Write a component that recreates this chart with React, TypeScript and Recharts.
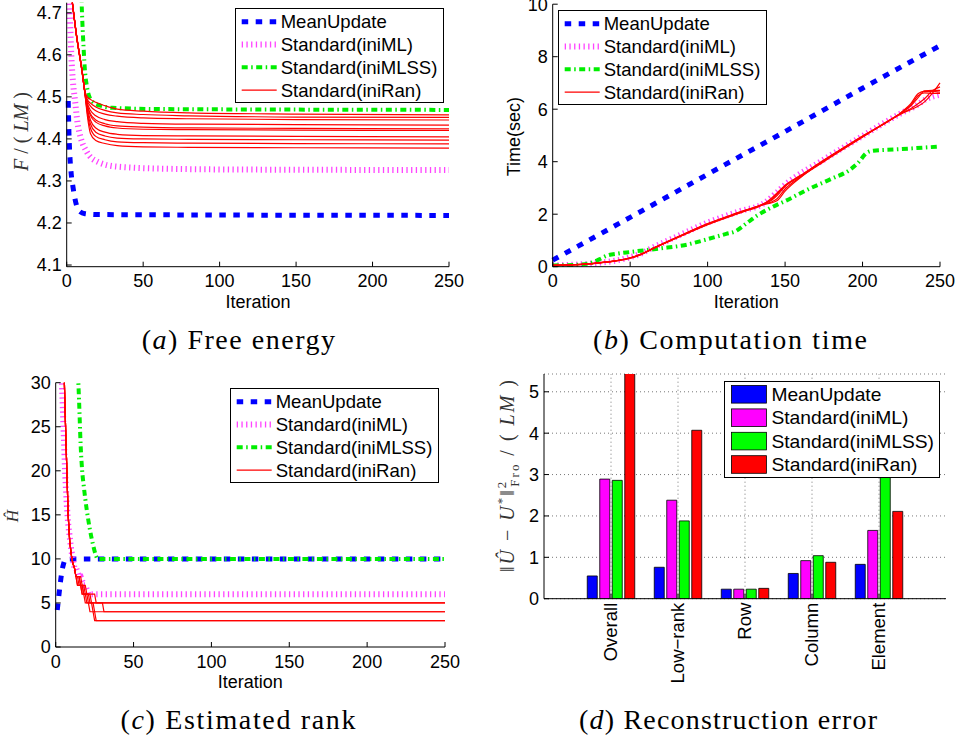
import React from 'react';
import { Bar, BarChart, CartesianGrid, Line, LineChart, ReferenceLine, XAxis, YAxis } from 'recharts';

const SANS = '"Liberation Sans", Arial, Helvetica, sans-serif';
const SERIF = '"Liberation Serif", "Times New Roman", serif';

const iterTicks = [0, 50, 100, 150, 200, 250];
const seriesNames = ['MeanUpdate', 'Standard(iniML)', 'Standard(iniMLSS)', 'Standard(iniRan)'];

// (a) free energy F/(LM)
const feTicks = [4.1, 4.2, 4.3, 4.4, 4.5, 4.6, 4.7];
const feMeanIt = [1, 1.5, 2, 3, 4, 5.5, 8, 12, 20, 250];
const feMean = [4.49, 4.41, 4.365, 4.315, 4.288, 4.256, 4.229, 4.222, 4.22, 4.218];
const feMLIt = [1, 2, 3, 4, 5.5, 7, 9, 13, 20, 33, 65, 120, 250];
const feML = [4.8, 4.7, 4.6, 4.54, 4.49, 4.44, 4.405, 4.37, 4.346, 4.334, 4.329, 4.327, 4.326];
const feMLSSIt = [9.5, 10, 11, 12, 13, 14, 17, 22, 30, 60, 250];
const feMLSS = [4.75, 4.7, 4.62, 4.56, 4.53, 4.51, 4.488, 4.479, 4.474, 4.471, 4.469];
const feRanIt = [3.5, 6.5, 10, 12, 13.5, 15.5, 19, 25, 33, 50, 80, 150, 250];
const feRan = [
  [4.73, 4.645, 4.565, 4.512, 4.5, 4.494, 4.487, 4.479, 4.471, 4.466, 4.462, 4.459, 4.457],
  [4.73, 4.645, 4.565, 4.51, 4.494, 4.485, 4.476, 4.468, 4.462, 4.458, 4.455, 4.452, 4.451],
  [4.73, 4.645, 4.564, 4.51, 4.49, 4.478, 4.467, 4.459, 4.454, 4.45, 4.448, 4.446, 4.445],
  [4.73, 4.644, 4.563, 4.509, 4.485, 4.468, 4.455, 4.446, 4.441, 4.437, 4.435, 4.434, 4.433],
  [4.73, 4.644, 4.563, 4.508, 4.48, 4.46, 4.445, 4.436, 4.431, 4.428, 4.426, 4.425, 4.424],
  [4.73, 4.644, 4.562, 4.508, 4.478, 4.456, 4.44, 4.431, 4.426, 4.423, 4.422, 4.421, 4.42],
  [4.73, 4.643, 4.562, 4.507, 4.472, 4.445, 4.426, 4.416, 4.411, 4.408, 4.407, 4.406, 4.405],
  [4.73, 4.643, 4.561, 4.507, 4.467, 4.436, 4.416, 4.407, 4.402, 4.4, 4.399, 4.398, 4.397],
  [4.73, 4.642, 4.561, 4.506, 4.462, 4.426, 4.406, 4.398, 4.393, 4.391, 4.39, 4.389, 4.388],
  [4.73, 4.642, 4.56, 4.505, 4.455, 4.413, 4.396, 4.389, 4.384, 4.381, 4.38, 4.379, 4.378],
];

// (b) computation time (sec)
const tmTicks = [0, 2, 4, 6, 8, 10];
const tmMeanIt = [0, 50, 100, 150, 200, 250];
const tmMean = [0.25, 1.88, 3.52, 5.15, 6.8, 8.42];
const tmMLIt = [0, 25, 50, 57, 65, 80, 100, 120, 137, 145, 150, 175, 200, 225, 235, 240, 250];
const tmML = [0.05, 0.12, 0.36, 0.5, 0.74, 1.15, 1.68, 2.1, 2.44, 2.85, 3.12, 4.08, 4.98, 5.85, 6.15, 6.35, 6.55];
const tmMLSSIt = [0, 15, 25, 30, 35, 42, 50, 60, 70, 85, 100, 112, 118, 124, 132, 142, 150, 165, 180, 192, 197, 203, 207, 215, 230, 250];
const tmMLSS = [0.05, 0.07, 0.15, 0.28, 0.42, 0.5, 0.56, 0.63, 0.7, 0.82, 1.05, 1.25, 1.35, 1.6, 1.95, 2.28, 2.5, 2.95, 3.35, 3.7, 3.95, 4.35, 4.42, 4.45, 4.5, 4.58];
const tmRanIt = [0, 10, 25, 40, 50, 57, 65, 80, 100, 120, 136, 141, 145, 150, 160, 175, 200, 225, 231, 236, 240, 245, 250];
const tmRan = [
  [0.05, 0.07, 0.12, 0.22, 0.33, 0.47, 0.7, 1.1, 1.62, 2.05, 2.38, 2.6, 2.82, 3.1, 3.48, 4.06, 4.98, 5.88, 6.2, 6.6, 6.68, 6.68, 6.65],
  [0.05, 0.07, 0.12, 0.22, 0.34, 0.48, 0.71, 1.11, 1.63, 2.06, 2.39, 2.52, 2.72, 3.05, 3.45, 4.04, 4.96, 5.86, 6.12, 6.45, 6.7, 6.72, 6.72],
  [0.05, 0.07, 0.12, 0.21, 0.33, 0.47, 0.7, 1.1, 1.61, 2.04, 2.37, 2.46, 2.6, 2.96, 3.42, 4.02, 4.95, 5.84, 6.02, 6.22, 6.4, 6.7, 6.85],
  [0.05, 0.06, 0.11, 0.21, 0.32, 0.46, 0.69, 1.09, 1.6, 2.03, 2.36, 2.43, 2.52, 2.88, 3.4, 4.0, 4.93, 5.82, 5.98, 6.12, 6.28, 6.6, 7.0],
  [0.05, 0.07, 0.12, 0.22, 0.34, 0.48, 0.71, 1.12, 1.64, 2.07, 2.4, 2.55, 2.78, 3.08, 3.46, 4.05, 4.97, 5.87, 6.15, 6.52, 6.62, 6.6, 6.6],
];

// (c) estimated rank
const rkTicks = [0, 5, 10, 15, 20, 25, 30];
const rkMeanIt = [1, 2, 3, 4, 5, 6, 7, 250];
const rkMean = [4.2, 5.8, 7.3, 8.6, 9.4, 9.9, 10, 10];
const rkMLIt = [3.8, 5, 6, 7, 8, 9, 10, 11, 12, 13, 15, 16, 18, 19, 21, 250];
const rkML = [31, 25, 20, 16.5, 14, 12.5, 11, 10, 9, 9, 8, 8, 7, 7, 6, 6];
const rkMLSSIt = [14.3, 15, 16, 17, 18, 19, 20, 22, 24, 26, 27, 250];
const rkMLSS = [31, 28, 23, 20, 18.3, 16.8, 15.5, 13.3, 11.6, 10.3, 10, 10];
const rkRanHeadIt = [5, 6, 7, 8, 9, 10, 11, 12];
const rkRanHead = [34, 27, 21, 15, 12, 10.5, 9.5, 9];
const rkRanTails = [
  { it: [13, 15, 16, 18, 19, 25, 26, 250], h: [8, 8, 7, 7, 6, 6, 5, 5] },
  { it: [13, 14, 15, 17, 18, 21, 22, 250], h: [8, 8, 7, 7, 6, 6, 5, 5] },
  { it: [13, 16, 17, 19, 20, 22, 23, 30, 31, 250], h: [8, 8, 7, 7, 6, 6, 5, 5, 4, 4] },
  { it: [13, 14, 16, 17, 19, 20, 24, 25, 250], h: [8, 7, 7, 6, 6, 5, 5, 4, 4] },
  { it: [13, 15, 16, 17, 20, 21, 22, 24, 25, 250], h: [8, 8, 7, 6, 6, 5, 4, 4, 3, 3] },
  { it: [13, 14, 17, 18, 19, 23, 24, 25, 26, 250], h: [8, 7, 7, 6, 5, 5, 4, 4, 3, 3] },
];

// (d) reconstruction error
const errCats = ['Overall', 'Low\u2212rank', 'Row', 'Column', 'Element'];
const errMean = [0.55, 0.76, 0.23, 0.61, 0.83];
const errML = [2.89, 2.38, 0.23, 0.92, 1.65];
const errMLSS = [2.86, 1.88, 0.23, 1.04, 3.6];
const errRan = [5.5, 4.07, 0.25, 0.88, 2.11];
const errTicks = [0, 1, 2, 3, 4, 5];

const pts = (it: number[], v: number[]) => it.map((x, i) => ({ x, y: v[i] }));

type LineStyle = { stroke: string; strokeWidth: number; strokeDasharray?: string };
const stMean: LineStyle = { stroke: '#0000ff', strokeWidth: 5, strokeDasharray: '6.5 7.5' };
const stML: LineStyle = { stroke: '#ff44ff', strokeWidth: 6, strokeDasharray: '1.3 3.4' };
const stMLSS: LineStyle = { stroke: '#00ee00', strokeWidth: 4, strokeDasharray: '6 3.5 1.5 3.5' };
const stRan: LineStyle = { stroke: '#ff0000', strokeWidth: 1.2 };
const legendStyles = [stMean, stML, stMLSS, stRan];
const barColors = ['#0000ff', '#ff00ff', '#00ff00', '#ff0000'];
// widths of the legend labels as measured on the figure
const lineLegendW = [106, 132.3, 156.7, 140.7];
const barLegendW = [110, 137, 162.6, 146];

type Series = { data: { x: number; y: number }[]; st: LineStyle; curve: 'monotone' | 'linear' };

const tickStyle = { fontSize: 18, fontFamily: SANS, fill: '#000' };
const ax = { stroke: '#000', strokeWidth: 1 };
const dotted = { stroke: '#555', strokeDasharray: '1 3', strokeWidth: 0.8 };

function IterChart({
  box,
  margin,
  yW,
  yDomain,
  yTicks,
  yFmt,
  series,
}: {
  box: [number, number, number, number];
  margin: { top: number; right: number; bottom: number; left: number };
  yW: number;
  yDomain: [number, number];
  yTicks: number[];
  yFmt?: (v: number) => string;
  series: Series[];
}) {
  return (
    <div style={{ position: 'absolute', left: box[0], top: box[1] }}>
      <LineChart width={box[2]} height={box[3]} margin={margin}>
        <XAxis dataKey="x" type="number" domain={[0, 250]} ticks={iterTicks} interval={0} height={33}
          tick={tickStyle} tickSize={-5} tickMargin={13} axisLine={ax} tickLine={ax} />
        <XAxis xAxisId="top" orientation="top" dataKey="x" type="number" domain={[0, 250]} ticks={iterTicks}
          height={0} tick={false} tickSize={-5} axisLine={ax} tickLine={ax} />
        <YAxis type="number" domain={yDomain} ticks={yTicks} allowDataOverflow interval={0} width={yW}
          tick={tickStyle} tickSize={-5} tickMargin={10} tickFormatter={yFmt} axisLine={ax} tickLine={ax} />
        <YAxis yAxisId="right" orientation="right" type="number" domain={yDomain} ticks={yTicks} allowDataOverflow
          width={0} tick={false} tickSize={-5} axisLine={ax} tickLine={ax} />
        {series.map((s, i) => (
          <Line key={i} data={s.data} dataKey="y" type={s.curve} dot={false} activeDot={false}
            isAnimationActive={false} {...s.st} />
        ))}
      </LineChart>
    </div>
  );
}

function LineLegend({ left, top }: { left: number; top: number }) {
  return (
    <svg style={{ position: 'absolute', left, top }} width={209} height={95}>
      <rect x={0.5} y={0.5} width={208} height={94} fill="#fff" stroke="#000" strokeWidth={1} />
      {seriesNames.map((name, i) => {
        const cy = 13.7 + i * 22.8;
        return (
          <g key={name}>
            <line x1={6.7} x2={41.7} y1={cy} y2={cy} {...legendStyles[i]} />
            <text x={45.7} y={cy} dy="0.35em" fontSize={18.5} fontFamily={SANS} fill="#000"
              textLength={lineLegendW[i]} lengthAdjust="spacingAndGlyphs">{name}</text>
          </g>
        );
      })}
    </svg>
  );
}

function BarLegend({ left, top }: { left: number; top: number }) {
  return (
    <svg style={{ position: 'absolute', left, top }} width={216} height={97}>
      <rect x={0.5} y={0.5} width={215} height={96} fill="#fff" stroke="#000" strokeWidth={1} />
      {seriesNames.map((name, i) => {
        const cy = 13.3 + i * 23.4;
        return (
          <g key={name}>
            <rect x={7.4} y={cy - 8.8} width={35} height={17.6} fill={barColors[i]} stroke="#000" strokeWidth={0.8} />
            <text x={47.4} y={cy} dy="0.35em" fontSize={19} fontFamily={SANS} fill="#000"
              textLength={barLegendW[i]} lengthAdjust="spacingAndGlyphs">{name}</text>
          </g>
        );
      })}
    </svg>
  );
}

function CatTick({ x, y, payload }: any) {
  return (
    <text x={x} y={y} transform={`rotate(-90 ${x} ${y})`} textAnchor="end" dy="0.35em"
      fontSize={18.5} fontFamily={SANS} fill="#000">
      {payload.value}
    </text>
  );
}

export default function App() {
  const feSeries: Series[] = [
    { data: pts(feMeanIt, feMean), st: stMean, curve: 'monotone' },
    { data: pts(feMLIt, feML), st: stML, curve: 'monotone' },
    { data: pts(feMLSSIt, feMLSS), st: stMLSS, curve: 'monotone' },
    ...feRan.map((r) => ({ data: pts(feRanIt, r), st: stRan, curve: 'monotone' as const })),
  ];
  const tmSeries: Series[] = [
    { data: pts(tmMeanIt, tmMean), st: stMean, curve: 'monotone' },
    { data: pts(tmMLIt, tmML), st: stML, curve: 'monotone' },
    { data: pts(tmMLSSIt, tmMLSS), st: stMLSS, curve: 'monotone' },
    ...tmRan.map((r) => ({ data: pts(tmRanIt, r), st: stRan, curve: 'monotone' as const })),
  ];
  const rkSeries: Series[] = [
    { data: pts(rkMeanIt, rkMean), st: stMean, curve: 'monotone' },
    { data: pts(rkMLIt, rkML), st: stML, curve: 'linear' },
    { data: pts(rkMLSSIt, rkMLSS), st: stMLSS, curve: 'monotone' },
    ...rkRanTails.map((t) => ({
      data: pts([...rkRanHeadIt, ...t.it], [...rkRanHead, ...t.h]),
      st: stRan,
      curve: 'linear' as const,
    })),
  ];
  const errRows = errCats.map((name, i) => ({
    name,
    mean: errMean[i],
    ml: errML[i],
    mlss: errMLSS[i],
    ran: errRan[i],
  }));

  return (
    <div style={{ position: 'absolute', left: 0, top: 0, width: 956, height: 740, background: '#fff', overflow: 'hidden' }}>
      <IterChart box={[0, 0, 470, 320]} margin={{ top: 2.7, right: 21, bottom: 20.3, left: 0 }} yW={66.7}
        yDomain={[4.096, 4.724]} yTicks={feTicks} yFmt={(v) => v.toFixed(1)} series={feSeries} />
      <LineLegend left={235} top={8} />

      <IterChart box={[480, 0, 476, 320]} margin={{ top: 4.2, right: 16, bottom: 20.3, left: 0 }} yW={72.7}
        yDomain={[0, 10]} yTicks={tmTicks} series={tmSeries} />
      <LineLegend left={558} top={10} />

      <IterChart box={[0, 370, 470, 330]} margin={{ top: 12.7, right: 25, bottom: 20, left: 0 }} yW={55.7}
        yDomain={[0, 30]} yTicks={rkTicks} series={rkSeries} />
      <LineLegend left={230} top={388} />

      <div style={{ position: 'absolute', left: 480, top: 370 }}>
        <BarChart width={476} height={330} data={errRows} margin={{ top: 4, right: 10, bottom: 6.3, left: 0 }}
          barCategoryGap={9.75} barGap={2.5}>
          <CartesianGrid vertical={false} {...dotted} />
          <XAxis dataKey="name" padding={{ left: 33.5, right: 33.5 }} height={95} interval={0} tick={<CatTick />}
            tickSize={-5} tickMargin={9} axisLine={ax} tickLine={ax} />
          <XAxis xAxisId="top" orientation="top" dataKey="name" padding={{ left: 33.5, right: 33.5 }} height={0}
            tick={false} tickLine={false} axisLine={ax} />
          <YAxis type="number" domain={[0, 5.43]} ticks={errTicks} allowDataOverflow interval={0} width={64}
            tick={tickStyle} tickSize={-5} tickMargin={10} axisLine={ax} tickLine={ax} />
          <YAxis yAxisId="right" orientation="right" type="number" domain={[0, 5.43]} ticks={errTicks}
            allowDataOverflow width={0} tick={false} tickSize={-5} axisLine={ax} tickLine={ax} />
          {errCats.map((c) => (
            <ReferenceLine key={c} x={c} {...dotted} />
          ))}
          <Bar dataKey="mean" fill={barColors[0]} stroke="#000" strokeWidth={0.8} isAnimationActive={false} />
          <Bar dataKey="ml" fill={barColors[1]} stroke="#000" strokeWidth={0.8} isAnimationActive={false} />
          <Bar dataKey="mlss" fill={barColors[2]} stroke="#000" strokeWidth={0.8} isAnimationActive={false} />
          <Bar dataKey="ran" fill={barColors[3]} stroke="#000" strokeWidth={0.8} isAnimationActive={false} />
        </BarChart>
      </div>
      <BarLegend left={724.3} top={380.7} />

      <svg style={{ position: 'absolute', left: 0, top: 0, pointerEvents: 'none' }} width={956} height={740}>
        <g fontFamily={SANS} fontSize={18} fill="#000" textAnchor="middle">
          <text x={258} y={308}>Iteration</text>
          <text x={746.3} y={308}>Iteration</text>
          <text x={250.3} y={688}>Iteration</text>
          <text transform="translate(513.3 136.7) rotate(-90)" dy="0.35em">Time(sec)</text>
        </g>
        <text transform="translate(21.7 131.5) rotate(-90)" dy="0.3em" textAnchor="middle" fontFamily={SERIF}
          fontSize={20} fill="#333">
          <tspan fontStyle="italic">F</tspan> / ( <tspan fontStyle="italic">LM</tspan> )
        </text>
        <text transform="translate(12.5 516) rotate(-90)" dy="0.35em" textAnchor="middle" fontFamily={SERIF}
          fontSize={17} fontStyle="italic" fill="#333">
          Ĥ
        </text>
        <text transform="translate(508 476) rotate(-90)" x={-96} dy="0.3em" fontFamily={SERIF}
          fontSize={20} fill="#333" textLength={192} lengthAdjust="spacing">
          ‖<tspan fontStyle="italic">Û</tspan> − <tspan fontStyle="italic">U</tspan>
          <tspan fontSize={13} dy={-8}>*</tspan>
          <tspan dy={8}>‖</tspan>
          <tspan fontSize={13} dy={-8}>2</tspan>
          <tspan fontSize={13} dx={-7} dy={13}>Fro</tspan>
          <tspan dy={-5}> / ( </tspan>
          <tspan fontStyle="italic">LM</tspan> )
        </text>
        <g fontFamily={SERIF} fontSize={28} fill="#000">
          <text x={141.7} y={348.5} textLength={193.3}>
            (<tspan fontStyle="italic">a</tspan>) Free energy
          </text>
          <text x={593} y={348.5} textLength={274}>
            (<tspan fontStyle="italic">b</tspan>) Computation time
          </text>
          <text x={120.5} y={729} textLength={235}>
            (<tspan fontStyle="italic">c</tspan>) Estimated rank
          </text>
          <text x={579} y={729} textLength={298}>
            (<tspan fontStyle="italic">d</tspan>) Reconstruction error
          </text>
        </g>
      </svg>
    </div>
  );
}
